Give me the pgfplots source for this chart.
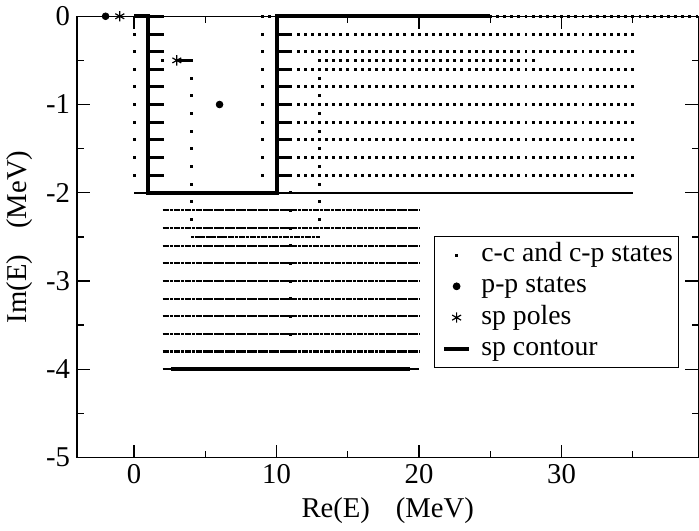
\documentclass[border=0pt]{standalone}
\usepackage{fontspec}
\setmainfont{Liberation Serif}
\newfontfamily\tms{Liberation Serif}
\usepackage{pgfplots}
\usepackage{pgfplotstable}
\pgfplotsset{compat=1.18}
% upper region c-c / c-p states: x, then Im(E) for the nine rows
\pgfplotstableread{
x    r1   r2   r3   r4   r5   r6   r7   r8   r9
0    -0.2 -0.4 -0.6 -0.8 -1.0 -1.2 -1.4 -1.6 -1.8
1.2  -0.2 -0.4 -0.6 -0.8 -1.0 -1.2 -1.4 -1.6 -1.8
1.4  -0.2 -0.4 -0.6 -0.8 -1.0 -1.2 -1.4 -1.6 -1.8
1.6  -0.2 -0.4 -0.6 -0.8 -1.0 -1.2 -1.4 -1.6 -1.8
1.8  -0.2 -0.4 -0.6 -0.8 -1.0 -1.2 -1.4 -1.6 -1.8
2.0  -0.2 -0.4 -0.6 -0.8 -1.0 -1.2 -1.4 -1.6 -1.8
9    -0.2 -0.4 -0.6 -0.8 -1.0 -1.2 -1.4 -1.6 -1.8
10.2 -0.2 -0.4 -0.6 -0.8 -1.0 -1.2 -1.4 -1.6 -1.8
10.4 -0.2 -0.4 -0.6 -0.8 -1.0 -1.2 -1.4 -1.6 -1.8
10.6 -0.2 -0.4 -0.6 -0.8 -1.0 -1.2 -1.4 -1.6 -1.8
10.8 -0.2 -0.4 -0.6 -0.8 -1.0 -1.2 -1.4 -1.6 -1.8
11.0 -0.2 -0.4 -0.6 -0.8 -1.0 -1.2 -1.4 -1.6 -1.8
11.5 -0.2 -0.4 -0.6 -0.8 -1.0 -1.2 -1.4 -1.6 -1.8
12.0 -0.2 -0.4 -0.6 -0.8 -1.0 -1.2 -1.4 -1.6 -1.8
12.5 -0.2 -0.4 -0.6 -0.8 -1.0 -1.2 -1.4 -1.6 -1.8
13.0 -0.2 -0.4 -0.6 -0.8 -1.0 -1.2 -1.4 -1.6 -1.8
13.5 -0.2 -0.4 -0.6 -0.8 -1.0 -1.2 -1.4 -1.6 -1.8
14.0 -0.2 -0.4 -0.6 -0.8 -1.0 -1.2 -1.4 -1.6 -1.8
14.5 -0.2 -0.4 -0.6 -0.8 -1.0 -1.2 -1.4 -1.6 -1.8
15.0 -0.2 -0.4 -0.6 -0.8 -1.0 -1.2 -1.4 -1.6 -1.8
15.5 -0.2 -0.4 -0.6 -0.8 -1.0 -1.2 -1.4 -1.6 -1.8
16.0 -0.2 -0.4 -0.6 -0.8 -1.0 -1.2 -1.4 -1.6 -1.8
16.5 -0.2 -0.4 -0.6 -0.8 -1.0 -1.2 -1.4 -1.6 -1.8
17.0 -0.2 -0.4 -0.6 -0.8 -1.0 -1.2 -1.4 -1.6 -1.8
17.5 -0.2 -0.4 -0.6 -0.8 -1.0 -1.2 -1.4 -1.6 -1.8
18.0 -0.2 -0.4 -0.6 -0.8 -1.0 -1.2 -1.4 -1.6 -1.8
18.5 -0.2 -0.4 -0.6 -0.8 -1.0 -1.2 -1.4 -1.6 -1.8
19.0 -0.2 -0.4 -0.6 -0.8 -1.0 -1.2 -1.4 -1.6 -1.8
19.5 -0.2 -0.4 -0.6 -0.8 -1.0 -1.2 -1.4 -1.6 -1.8
20.0 -0.2 -0.4 -0.6 -0.8 -1.0 -1.2 -1.4 -1.6 -1.8
20.5 -0.2 -0.4 -0.6 -0.8 -1.0 -1.2 -1.4 -1.6 -1.8
21.0 -0.2 -0.4 -0.6 -0.8 -1.0 -1.2 -1.4 -1.6 -1.8
21.5 -0.2 -0.4 -0.6 -0.8 -1.0 -1.2 -1.4 -1.6 -1.8
22.0 -0.2 -0.4 -0.6 -0.8 -1.0 -1.2 -1.4 -1.6 -1.8
22.5 -0.2 -0.4 -0.6 -0.8 -1.0 -1.2 -1.4 -1.6 -1.8
23.0 -0.2 -0.4 -0.6 -0.8 -1.0 -1.2 -1.4 -1.6 -1.8
23.5 -0.2 -0.4 -0.6 -0.8 -1.0 -1.2 -1.4 -1.6 -1.8
24.0 -0.2 -0.4 -0.6 -0.8 -1.0 -1.2 -1.4 -1.6 -1.8
24.5 -0.2 -0.4 -0.6 -0.8 -1.0 -1.2 -1.4 -1.6 -1.8
25.0 -0.2 -0.4 -0.6 -0.8 -1.0 -1.2 -1.4 -1.6 -1.8
25.5 -0.2 -0.4 -0.6 -0.8 -1.0 -1.2 -1.4 -1.6 -1.8
26.0 -0.2 -0.4 -0.6 -0.8 -1.0 -1.2 -1.4 -1.6 -1.8
26.5 -0.2 -0.4 -0.6 -0.8 -1.0 -1.2 -1.4 -1.6 -1.8
27.0 -0.2 -0.4 -0.6 -0.8 -1.0 -1.2 -1.4 -1.6 -1.8
27.5 -0.2 -0.4 -0.6 -0.8 -1.0 -1.2 -1.4 -1.6 -1.8
28.0 -0.2 -0.4 -0.6 -0.8 -1.0 -1.2 -1.4 -1.6 -1.8
28.5 -0.2 -0.4 -0.6 -0.8 -1.0 -1.2 -1.4 -1.6 -1.8
29.0 -0.2 -0.4 -0.6 -0.8 -1.0 -1.2 -1.4 -1.6 -1.8
29.5 -0.2 -0.4 -0.6 -0.8 -1.0 -1.2 -1.4 -1.6 -1.8
30.0 -0.2 -0.4 -0.6 -0.8 -1.0 -1.2 -1.4 -1.6 -1.8
30.5 -0.2 -0.4 -0.6 -0.8 -1.0 -1.2 -1.4 -1.6 -1.8
31.0 -0.2 -0.4 -0.6 -0.8 -1.0 -1.2 -1.4 -1.6 -1.8
31.5 -0.2 -0.4 -0.6 -0.8 -1.0 -1.2 -1.4 -1.6 -1.8
32.0 -0.2 -0.4 -0.6 -0.8 -1.0 -1.2 -1.4 -1.6 -1.8
32.5 -0.2 -0.4 -0.6 -0.8 -1.0 -1.2 -1.4 -1.6 -1.8
33.0 -0.2 -0.4 -0.6 -0.8 -1.0 -1.2 -1.4 -1.6 -1.8
33.5 -0.2 -0.4 -0.6 -0.8 -1.0 -1.2 -1.4 -1.6 -1.8
34.0 -0.2 -0.4 -0.6 -0.8 -1.0 -1.2 -1.4 -1.6 -1.8
34.5 -0.2 -0.4 -0.6 -0.8 -1.0 -1.2 -1.4 -1.6 -1.8
35.0 -0.2 -0.4 -0.6 -0.8 -1.0 -1.2 -1.4 -1.6 -1.8
}\upperrows
\begin{document}
\begin{tikzpicture}
\begin{axis}[
  scale only axis, width=314pt, height=223pt,
  xmin=-4, xmax=39.6, ymin=-5, ymax=0,
  clip=false,
  xtick={0,10,20,30}, xticklabels={0,10,20,30},
  ytick={-5,-4,-3,-2,-1,0}, yticklabels={{-5},{-4},{-3},{-2},{-1},{0}},
  minor xtick={5,15,25,35}, minor ytick={-4.5,-3.5,-2.5,-1.5,-0.5},
  tick align=inside, major tick length=6.5pt, minor tick length=3.3pt,
  axis line style={line width=0.7pt},
  every tick/.style={black, line width=0.7pt},
  tick label style={font=\tms\fontsize{14.5}{16}\selectfont},
  label style={font=\tms\fontsize{14.5}{16}\selectfont},
  xlabel={Re(E)\hspace{0.9em}(MeV)},
  ylabel={Im(E)\hspace{0.9em}(MeV)},
  legend cell align=left,
  legend style={at={(0.575,0.502)}, anchor=north west, draw=black, line width=0.5pt,
    font=\tms\fontsize{14}{15}\selectfont, inner xsep=1.5pt, inner ysep=1.5pt,
    row sep=0pt, column sep=2pt,
    nodes={inner xsep=1pt, inner ysep=0.5pt, text height=10.7pt, text depth=4.1pt}},
  markleg/.style={legend image code/.code={%
    \path (0cm,0cm) (0.6cm,0cm);
    \path[##1] plot coordinates {(0.3cm,0cm)};}},
  cc/.style={only marks, mark=square*, mark size=0.5pt, black},
  dense/.style={black, line width=1.1pt, dash pattern=on 1.6pt off 0.25pt},
]
% c-c and c-p states (sparse points)
\addplot[cc, markleg] coordinates {
 (1.2,0)(1.4,0)(1.6,0)(1.8,0)(2,0)(9,0)(9.5,0)
 (25,0)(25.5,0)(26,0)(26.5,0)(27,0)(27.5,0)(28,0)(28.5,0)(29,0)(29.5,0)(30,0)(30.5,0)(31,0)(31.5,0)
 (32,0)(32.5,0)(33,0)(33.5,0)(34,0)(34.5,0)(35,0)(35.5,0)(36,0)(36.5,0)(37,0)(37.5,0)(38,0)(38.5,0)(39,0)(39.5,0)
 (2,-0.5)(3.2,-0.5)(3.4,-0.5)(3.6,-0.5)(3.8,-0.5)(4,-0.5)
 (13,-0.5)(13.5,-0.5)(14,-0.5)(14.5,-0.5)(15,-0.5)(15.5,-0.5)(16,-0.5)(16.5,-0.5)(17,-0.5)(17.5,-0.5)
 (18,-0.5)(18.5,-0.5)(19,-0.5)(19.5,-0.5)(20,-0.5)(20.5,-0.5)(21,-0.5)(21.5,-0.5)(22,-0.5)(22.5,-0.5)
 (23,-0.5)(23.5,-0.5)(24,-0.5)(24.5,-0.5)(25,-0.5)(25.5,-0.5)(26,-0.5)(26.5,-0.5)(27,-0.5)(27.5,-0.5)(28,-0.5)
 (4,-0.7)(4,-0.9)(4,-1.1)(4,-1.3)(4,-1.5)(4,-1.7)(4,-1.9)(4,-2.1)(4,-2.3)
 (13,-0.7)(13,-0.9)(13,-1.1)(13,-1.3)(13,-1.5)(13,-1.7)(13,-1.9)(13,-2.1)(13,-2.3)
 (11,-2)(11,-2.2)(11,-2.4)(11,-2.6)(11,-2.8)(11,-3)(11,-3.2)(11,-3.4)(11,-3.6)(11,-3.8)
};
\addlegendentry{\makebox[97pt][l]{c-c and c-p states}}
\addplot[cc, forget plot] table[x=x, y=r1] {\upperrows};
\addplot[cc, forget plot] table[x=x, y=r2] {\upperrows};
\addplot[cc, forget plot] table[x=x, y=r3] {\upperrows};
\addplot[cc, forget plot] table[x=x, y=r4] {\upperrows};
\addplot[cc, forget plot] table[x=x, y=r5] {\upperrows};
\addplot[cc, forget plot] table[x=x, y=r6] {\upperrows};
\addplot[cc, forget plot] table[x=x, y=r7] {\upperrows};
\addplot[cc, forget plot] table[x=x, y=r8] {\upperrows};
\addplot[cc, forget plot] table[x=x, y=r9] {\upperrows};
% dense rows of c-c states
\addplot[black, line width=1.2pt, forget plot] coordinates {(0,-2) (35,-2)};
\addplot[dense, forget plot] coordinates {(2,-2.2) (20,-2.2)};
\addplot[dense, forget plot] coordinates {(2,-2.4) (20,-2.4)};
\addplot[dense, forget plot] coordinates {(4,-2.5) (13,-2.5)};
\addplot[dense, forget plot] coordinates {(2,-2.6) (20,-2.6)};
\addplot[dense, forget plot] coordinates {(2,-2.8) (20,-2.8)};
\addplot[dense, forget plot] coordinates {(2,-3.0) (20,-3.0)};
\addplot[dense, forget plot] coordinates {(2,-3.2) (20,-3.2)};
\addplot[dense, forget plot] coordinates {(2,-3.4) (20,-3.4)};
\addplot[dense, forget plot] coordinates {(2,-3.6) (20,-3.6)};
\addplot[dense, forget plot] coordinates {(2,-3.8) (20,-3.8)};
\addplot[black, line width=1pt, forget plot] coordinates {(2,-4) (20,-4)};
\addplot[black, line width=1.8pt, forget plot] coordinates {(2.6,-4) (19.4,-4)};
% p-p states
\addplot[only marks, mark=*, mark size=1.7pt, black, markleg] coordinates {(-2,0) (6,-1)};
\addlegendentry{p-p states}
% sp poles
\addplot[only marks, mark=asterisk, mark size=2.6pt, black, mark options={line width=0.6pt}, markleg] coordinates {(-1,0) (3,-0.5)};
\addlegendentry{sp poles}
% sp contour
\addplot[black, line width=2pt, line join=miter,
  legend image code/.code={\path (0cm,0cm) (0.6cm,0cm); \draw[black, line width=2pt] (0.08cm,0cm) -- (0.52cm,0cm);}]
  coordinates {(0,0) (1,0) (1,-2) (10,-2) (10,0) (25,0)};
\addlegendentry{sp contour}
\end{axis}
\end{tikzpicture}
\end{document}
